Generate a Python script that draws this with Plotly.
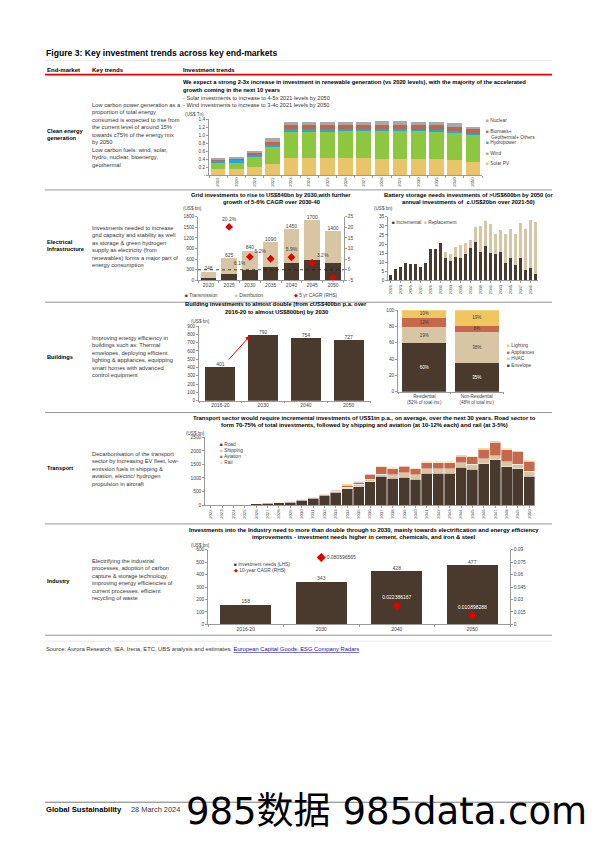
import plotly.graph_objects as go

# page geometry (browser body has an 8px default margin, compensate for it)
PAGE_W, PAGE_H = 595, 842
OFF = 8
W, H = PAGE_W - OFF, PAGE_H - OFF
FONT = "Liberation Sans, Arial, sans-serif"

# ---------------- data ----------------
ce_years = ['2019', '2020', '2021', '2022', '2023', '2024', '2025', '2026', '2027', '2028',
            '2029', '2030', '2035', '2040', '2050']
ce_solar = [0.15, 0.15, 0.20, 0.28, 0.42, 0.42, 0.42, 0.42, 0.42, 0.41, 0.41, 0.41, 0.40, 0.37, 0.32]
ce_wind = [0.15, 0.15, 0.25, 0.42, 0.67, 0.67, 0.67, 0.68, 0.68, 0.69, 0.69, 0.69, 0.69, 0.69, 0.68]
ce_hydro = [0.05, 0.08, 0.05, 0.06, 0.06, 0.06, 0.06, 0.05, 0.05, 0.05, 0.05, 0.04, 0.04, 0.04, 0.04]
ce_biomass = [0.02, 0.02, 0.05, 0.07, 0.10, 0.10, 0.10, 0.11, 0.11, 0.12, 0.12, 0.13, 0.12, 0.12, 0.13]
ce_nuclear = [0.03, 0.05, 0.06, 0.10, 0.08, 0.08, 0.08, 0.08, 0.08, 0.08, 0.08, 0.07, 0.08, 0.08, 0.05]

grid_years = ['2020', '2025', '2030', '2035', '2040', '2045', '2050']
grid_transmission = [80, 170, 280, 385, 485, 585, 490]
grid_distribution = [168, 455, 560, 705, 965, 1115, 910]
grid_cagr_years = ['2025', '2030', '2035', '2040', '2045', '2050']
grid_cagr = [20.2, 6.1, 5.2, 5.9, 3.2, -3.8]

bat_years = list(range(2021, 2051))
bat_incremental = [3, 6, 7.3, 9.5, 8.9, 8.9, 7.1, 9.8, 17.3, 17.3, 20.4, 12.2, 10.9, 12.9, 12.2,
                   14.7, 17.8, 21.1, 15.8, 18.7, 15.3, 14.5, 15.8, 9.8, 12.2, 8.4, 12.2, 5.8, 6.9, 3.6]
bat_replacement = [0, 0, 0, 0, 0, 0, 0, 0, 0, 0, 0, 3.6, 3.6, 5.5, 7.3,
                   5.7, 4.6, 8.2, 14.2, 13.8, 15.8, 10.8, 12.0, 15.5, 16.3, 16.9, 19.6, 22.7, 26.4, 28.4]

bld_cats = ['2016-20', '2030', '2040', '2050']
bld_values = [401, 792, 754, 727]

bldr_cats = ['Residential<br>(52% of total inv.)', 'Non-Residential<br>(48% of total inv.)']
bldr_envelope = [60, 35]
bldr_hvac = [19, 38]
bldr_appliances = [12, 8]
bldr_lighting = [10, 19]

tr_years = list(range(2022, 2051))
tr_road = [5, 20, 22, 25, 45, 73, 78, 110, 171, 256, 354, 464, 598, 683, 854, 1061, 990, 1030,
           950, 1183, 1183, 1183, 1390, 1330, 1520, 1670, 1420, 1350, 1070]
tr_shipping = [1, 3, 3, 3, 5, 8, 8, 12, 25, 30, 40, 50, 62, 77, 96, 69, 130, 160,
               170, 167, 167, 167, 180, 180, 190, 150, 180, 150, 180]
tr_aviation = [1, 2, 2, 2, 3, 5, 5, 6, 15, 15, 20, 35, 80, 80, 190, 290, 230, 240,
               220, 210, 210, 210, 230, 270, 360, 500, 450, 480, 360]
tr_rail = [0.5, 1, 1, 1, 2, 3, 3, 3, 8, 8, 10, 12, 50, 30, 20, 30, 40, 30,
           30, 50, 50, 50, 50, 50, 50, 60, 50, 30, 50]

ind_cats = ['2016-20', '2030', '2040', '2050']
ind_values = [158, 343, 428, 477]
ind_cagr_cats = ['2030', '2040', '2050']
ind_cagr = [0.080596565, 0.022386167, 0.010898288]

# ---------------- colours ----------------
DARK = '#4A3A2E'
TAN = '#D7C5A3'
TERRA = '#C5684C'
YEL = '#F0C75E'
LYEL = '#F2DC94'
RED = '#E00000'
C_SOLAR, C_WIND, C_HYDRO, C_BIO, C_NUC = '#EAC46B', '#8DC63F', '#1FA9E1', '#C0654C', '#A8A8A8'
TXT = '#404040'


def X(p):
    return (p - OFF) / W


def Y(p):
    return 1 - (p - OFF) / H


def dom(x0, x1, y0, y1):
    return [X(x0), X(x1)], [Y(y1), Y(y0)]


fig = go.Figure()

# ---------- clean energy ----------
for name, vals, col in [('Solar PV', ce_solar, C_SOLAR), ('Wind', ce_wind, C_WIND),
                        ('Hydropower', ce_hydro, C_HYDRO),
                        ('Biomass+ Geothermal+ Others', ce_biomass, C_BIO), ('Nuclear', ce_nuclear, C_NUC)]:
    fig.add_trace(go.Bar(x=ce_years, y=vals, name=name, marker=dict(color=col, line=dict(width=0)),
                         width=0.8, xaxis='x', yaxis='y'))

# ---------- grid ----------
grid_tot = [a + b for a, b in zip(grid_transmission, grid_distribution)]
fig.add_trace(go.Bar(x=grid_years, y=grid_transmission, marker=dict(color=DARK, line=dict(width=0)),
                     width=0.75, xaxis='x2', yaxis='y2'))
fig.add_trace(go.Bar(x=grid_years, y=grid_distribution, marker=dict(color=TAN, line=dict(width=0)),
                     width=0.75, xaxis='x2', yaxis='y2'))
fig.add_trace(go.Scatter(x=grid_years, y=grid_tot, mode='text', text=[str(v) for v in grid_tot],
                         textposition='top center', textfont=dict(size=5, color=TXT, family=FONT),
                         xaxis='x2', yaxis='y2', cliponaxis=False))
fig.add_trace(go.Scatter(x=grid_cagr_years, y=grid_cagr, mode='markers+text',
                         marker=dict(symbol='diamond', color=RED, size=6),
                         text=['%.1f%%' % v for v in grid_cagr],
                         textposition=['top center', 'bottom left', 'top left', 'top center', 'top right', 'top center'],
                         textfont=dict(size=5, color=TXT, family=FONT),
                         xaxis='x2', yaxis='y3', cliponaxis=False))

# ---------- battery ----------
fig.add_trace(go.Bar(x=bat_years, y=bat_incremental, marker=dict(color=DARK, line=dict(width=0)),
                     width=0.68, xaxis='x3', yaxis='y4'))
fig.add_trace(go.Bar(x=bat_years, y=bat_replacement, marker=dict(color=TAN, line=dict(width=0)),
                     width=0.68, xaxis='x3', yaxis='y4'))

# ---------- buildings left ----------
fig.add_trace(go.Bar(x=bld_cats, y=bld_values, marker=dict(color=DARK, line=dict(width=0)),
                     width=0.7, xaxis='x4', yaxis='y5'))
fig.add_trace(go.Scatter(x=bld_cats, y=bld_values, mode='text', text=[str(v) for v in bld_values],
                         textposition='top center', textfont=dict(size=5, color=TXT, family=FONT),
                         xaxis='x4', yaxis='y5', cliponaxis=False))

# ---------- buildings right ----------
for name, vals, col, tc in [('Envelope', bldr_envelope, DARK, 'white'), ('HVAC', bldr_hvac, TAN, TXT),
                            ('Appliances', bldr_appliances, TERRA, TXT), ('Lighting', bldr_lighting, YEL, TXT)]:
    fig.add_trace(go.Bar(x=bldr_cats, y=vals, marker=dict(color=col, line=dict(width=0)), width=0.83,
                         text=['%d%%' % v for v in vals], textposition='inside', insidetextanchor='middle',
                         constraintext='none', textangle=0,
                         textfont=dict(size=4.5, color=tc, family=FONT),
                         xaxis='x5', yaxis='y6'))

# ---------- transport ----------
for vals, col in [(tr_road, DARK), (tr_shipping, TAN), (tr_aviation, TERRA), (tr_rail, LYEL)]:
    fig.add_trace(go.Bar(x=tr_years, y=vals, marker=dict(color=col, line=dict(width=0.4, color='white')),
                         width=0.96, xaxis='x6', yaxis='y7'))

# ---------- industry ----------
fig.add_trace(go.Bar(x=ind_cats, y=ind_values, marker=dict(color=DARK, line=dict(width=0)),
                     width=0.68, xaxis='x7', yaxis='y8'))
fig.add_trace(go.Scatter(x=ind_cats, y=ind_values, mode='text', text=[str(v) for v in ind_values],
                         textposition='top center', textfont=dict(size=5, color=TXT, family=FONT),
                         xaxis='x7', yaxis='y8', cliponaxis=False))
fig.add_trace(go.Scatter(x=ind_cagr_cats, y=ind_cagr, mode='markers+text',
                         marker=dict(symbol='diamond', color=RED, size=7),
                         text=[str(v) for v in ind_cagr],
                         textposition=['middle right', 'top center', 'top center'],
                         textfont=dict(size=5, color=[TXT, 'white', 'white'], family=FONT),
                         xaxis='x7', yaxis='y9', cliponaxis=False))

# ---------------- axes ----------------
def axis(d, anchor, **kw):
    base = dict(domain=d, anchor=anchor, showgrid=False, zeroline=False, showline=True,
                linecolor='#9a9a9a', linewidth=0.6, tickfont=dict(size=4.8, color=TXT, family=FONT),
                ticks='outside', ticklen=2, tickcolor='#9a9a9a', tickwidth=0.5, fixedrange=True)
    base.update(kw)
    return base


lay = {}
dx, dy = dom(209, 482, 118, 174)
lay['xaxis'] = axis(dx, 'y', type='category', tickangle=-90, tickfont=dict(size=4.2, color=TXT, family=FONT),
                    tickson='boundaries')
lay['yaxis'] = axis(dy, 'x', range=[0, 1.4], tickvals=[0, 0.2, 0.4, 0.6, 0.8, 1.0, 1.2, 1.4],
                    ticktext=['-', '0.2', '0.4', '0.6', '0.8', '1.0', '1.2', '1.4'])

dx, dy = dom(198, 344, 216, 280)
lay['xaxis2'] = axis(dx, 'y2', type='category', tickson='boundaries', tickfont=dict(size=5, color=TXT, family=FONT))
lay['yaxis2'] = axis(dy, 'x2', range=[0, 1800], tickvals=list(range(0, 1801, 300)))
lay['yaxis3'] = axis(dy, 'x2', overlaying='y2', side='right', range=[-5, 25],
                     tickvals=list(range(-5, 26, 5)), ticksuffix='%')

dx, dy = dom(388, 538, 216, 280)
lay['xaxis3'] = axis(dx, 'y4', range=[2020.5, 2050.5], tickvals=bat_years[::2], tickangle=-90,
                     tickfont=dict(size=4.2, color=TXT, family=FONT))
lay['yaxis4'] = axis(dy, 'x3', range=[0, 35], tickvals=list(range(0, 36, 5)))

dx, dy = dom(199, 370, 326, 401)
lay['xaxis4'] = axis(dx, 'y5', type='category', tickson='boundaries', tickfont=dict(size=5, color=TXT, family=FONT))
lay['yaxis5'] = axis(dy, 'x4', range=[0, 900], tickvals=list(range(0, 901, 100)))

dx, dy = dom(398, 503, 310, 392)
lay['xaxis5'] = axis(dx, 'y6', type='category', tickson='boundaries', tickfont=dict(size=4.5, color=TXT, family=FONT))
lay['yaxis6'] = axis(dy, 'x5', range=[0, 100], tickvals=list(range(0, 101, 20)), ticksuffix='%')

dx, dy = dom(205, 535, 438, 506)
lay['xaxis6'] = axis(dx, 'y7', range=[2021.5, 2050.5], tickvals=tr_years, tickangle=-90,
                     tickfont=dict(size=4.2, color=TXT, family=FONT))
lay['yaxis7'] = axis(dy, 'x6', range=[0, 2500], tickvals=list(range(0, 2501, 500)))

dx, dy = dom(208, 510, 551, 626)
lay['xaxis7'] = axis(dx, 'y8', type='category', tickson='boundaries', tickfont=dict(size=5, color=TXT, family=FONT))
lay['yaxis8'] = axis(dy, 'x7', range=[0, 600], tickvals=list(range(0, 601, 100)))
lay['yaxis9'] = axis(dy, 'x7', overlaying='y8', side='right', range=[0, 0.09],
                     tickvals=[0, 0.015, 0.03, 0.045, 0.06, 0.075, 0.09],
                     ticktext=['0', '0.015', '0.03', '0.045', '0.06', '0.075', '0.09'])

# ---------------- annotations ----------------
anns = []


def T(text, x, y, size=5.5, bold=False, anchor='left', color='#000000', family=FONT):
    if bold:
        text = '<b>' + text + '</b>'
    anns.append(dict(text=text, x=X(x), y=Y(y), xref='paper', yref='paper', showarrow=False,
                     xanchor=anchor, yanchor='middle', align=anchor,
                     font=dict(size=size, color=color, family=family)))


T('Figure 3: Key investment trends across key end-markets', 44, 51, size=8.6, bold=True)
T('End-market', 45, 68, size=6, bold=True)
T('Key trends', 90, 68, size=6, bold=True)
T('Investment trends', 181, 68, size=6, bold=True)

# Row labels and key trends
rows = [
    ('Clean energy<br>generation', 133,
     'Low carbon power generation as a<br>proportion of total energy<br>consumed is expected to rise from<br>'
     'the current level of around 15%<br>towards c75% of the energy mix<br>by 2050<br>'
     'Low carbon fuels: wind, solar,<br>hydro, nuclear, bioenergy,<br>geothermal', 133.5),
    ('Electrical<br>Infrastructure', 245,
     'Investments needed to increase<br>grid capacity and stability as well<br>as storage &amp; green hydrogen<br>'
     'supply as electricity (from<br>renewables) forms a major part of<br>energy consumption', 246),
    ('Buildings', 357,
     'Improving energy efficiency in<br>buildings such as: Thermal<br>envelopes, deploying efficient<br>'
     'lighting &amp; appliances, equipping<br>smart homes with advanced<br>control equipment', 357),
    ('Transport', 469,
     'Decarbonisation of the transport<br>sector by increasing EV fleet, low-<br>emission fuels in shipping &amp;<br>'
     'aviation, electric/ hydrogen<br>propulsion in aircraft', 470),
    ('Industry', 582,
     'Electrifying the industrial<br>processes, adoption of carbon<br>capture &amp; storage technology,<br>'
     'improving energy efficiencies of<br>current processes, efficient<br>recycling of waste', 581),
]
for lab, ly, txt, ty in rows:
    T(lab, 45, ly, size=5.7, bold=True)
    T(txt, 90, ty, size=5.75, color='#333333')

TS = 5.8
# Clean energy header
T('We expect a strong 2-3x increase in investment in renewable generation (vs 2020 levels), with the majority of the accelerated',
  181, 80, size=TS, bold=True)
T('growth coming in the next 10 years', 181, 88, size=TS, bold=True)
T('- Solar investments to increase to 4-5x 2021 levels by 2050', 181, 96.5, size=5.6, color='#333333')
T('- Wind investments to increase to 3-4c 2021 levels by 2050', 181, 104, size=5.6, color='#333333')
T('(US$ Tn)', 183, 113, size=4.6, color=TXT)


def sq(c):
    return '<span style="color:%s">■</span> ' % c


T(sq(C_NUC) + 'Nuclear', 484, 119, size=4.8, color=TXT)
T(sq(C_BIO) + 'Biomass+', 484, 130, size=4.8, color=TXT)
T('Geothermal+ Others', 489, 136, size=4.8, color=TXT)
T(sq(C_HYDRO) + 'Hydropower', 484, 141, size=4.8, color=TXT)
T(sq(C_WIND) + 'Wind', 484, 152, size=4.8, color=TXT)
T(sq(C_SOLAR) + 'Solar PV', 484, 162, size=4.8, color=TXT)

# Grid header
T('Grid investments to rise to US$840bn by 2030,with further', 271, 194, size=TS, bold=True, anchor='center')
T('growth of 5-6% CAGR over 2030-40', 271, 201, size=TS, bold=True, anchor='center')
T('(US$ bn)', 181, 208, size=4.6, color=TXT)
T(sq(DARK) + 'Transmission', 183, 295, size=4.8, color=TXT)
T(sq(TAN) + 'Distribution', 233, 295, size=4.8, color=TXT)
T('<span style="color:%s">◆</span> 5 yr CAGR (RHS)' % RED, 292, 295, size=4.8, color=TXT)

# Battery header
T('Battery storage needs investments of &gt;US$600bn by 2050 (or', 468, 194, size=TS, bold=True, anchor='center')
T('annual investments of  c.US$20bn over 2021-50)', 468, 201, size=TS, bold=True, anchor='center')
T('(US$ bn)', 372, 208, size=4.6, color=TXT)
T(sq(DARK) + 'Incremental  ' + sq(TAN) + 'Replacement', 390, 222, size=4.8, color=TXT)

# Buildings header
T('Building investments to almost double (from cUS$400bn p.a. over', 276, 304, size=TS, bold=True, anchor='center')
T('2016-20 to almost US$800bn) by 2030', 276, 311.5, size=TS, bold=True, anchor='center')
T('(US$ bn)', 189, 321, size=4.6, color=TXT)
T(sq(YEL) + 'Lighting', 505, 346, size=4.8, color=TXT)
T(sq(TERRA) + 'Appliances', 505, 352.5, size=4.8, color=TXT)
T(sq(TAN) + 'HVAC', 505, 359, size=4.8, color=TXT)
T(sq(DARK) + 'Envelope', 505, 365.5, size=4.8, color=TXT)

# Transport header
T('Transport sector would require incremental investments of US$1tn p.a., on average, over the next 30 years. Road sector to',
  364, 418, size=5.9, bold=True, anchor='center')
T('form 70-75% of total investments, followed by shipping and aviation (at 10-12% each) and rail (at 3-5%)',
  364, 426, size=5.9, bold=True, anchor='center')
T('(US$ bn)', 184, 434, size=4.6, color=TXT)
T(sq(DARK) + 'Road', 218, 445, size=4.8, color=TXT)
T(sq(TAN) + 'Shipping', 218, 451, size=4.8, color=TXT)
T(sq(TERRA) + 'Aviation', 218, 457, size=4.8, color=TXT)
T(sq(LYEL) + 'Rail', 218, 463, size=4.8, color=TXT)

# Industry header
T('Investments into the Industry need to more than double through to 2030, mainly towards electrification and energy efficiency',
  364, 531, size=5.9, bold=True, anchor='center')
T('improvements - investment needs higher in cement, chemicals, and iron &amp; steel', 364, 538.5, size=5.9,
  bold=True, anchor='center')
T('(US$ bn)', 189, 547, size=4.6, color=TXT)
T(sq(DARK) + 'Investment needs (LHS)', 232, 566, size=4.8, color=TXT)
T('<span style="color:%s">◆</span> 10-year CAGR (RHS)' % RED, 232, 572, size=4.8, color=TXT)

# Source
T('Source: Aurora Research, IEA, Irena, ETC, UBS analysis and estimates. '
  '<span style="color:#1a0dab"><u>European Capital Goods: ESG Company Radars</u></span>',
  44, 651, size=5.8, color='#333333')

# Footer
T('Global Sustainability', 44, 812, size=7.6, bold=True)
T('28 March 2024', 129, 812, size=7.4, color='#333333')
T('985数据 985data.com', 184, 814, size=37, color='#000000', family='DejaVu Sans, Noto Sans CJK SC')

# Building arrow
anns.append(dict(x=0.7, y=785, xref='x4', yref='y5', ax=0.15, ay=470, axref='x4', ayref='y5',
                 showarrow=True, arrowhead=2, arrowsize=1, arrowwidth=1, arrowcolor=RED, text=' '))

# ---------------- shapes ----------------
shapes = []


def hline(y, x0=45, x1=552, color='#9a9a9a', width=0.8):
    shapes.append(dict(type='line', xref='paper', yref='paper', x0=X(x0), x1=X(x1), y0=Y(y), y1=Y(y),
                       line=dict(color=color, width=width)))


hline(59, color='#e0e0e0', width=0.8)
hline(73, color='#E60000', width=1.6)
for yy in [189, 302, 413, 525, 637]:
    hline(yy, color='#8a8a8a', width=0.9)
hline(643, color='#e3e3e3', width=0.8)
hline(805, x1=550, color='#555555', width=0.8)

# dotted 0% line on grid chart
shapes.append(dict(type='line', xref='x2 domain', yref='y3', x0=0, x1=1, y0=0, y1=0,
                   line=dict(color='#222222', width=0.8, dash='dot')))

layout = dict(width=W, height=H, margin=dict(l=0, r=0, t=0, b=0), paper_bgcolor='white',
              plot_bgcolor='white', barmode='stack', showlegend=False, annotations=anns, shapes=shapes,
              font=dict(family=FONT, size=5, color=TXT))
layout.update(lay)
fig.update_layout(**layout)

fig.write_html('out.html')
